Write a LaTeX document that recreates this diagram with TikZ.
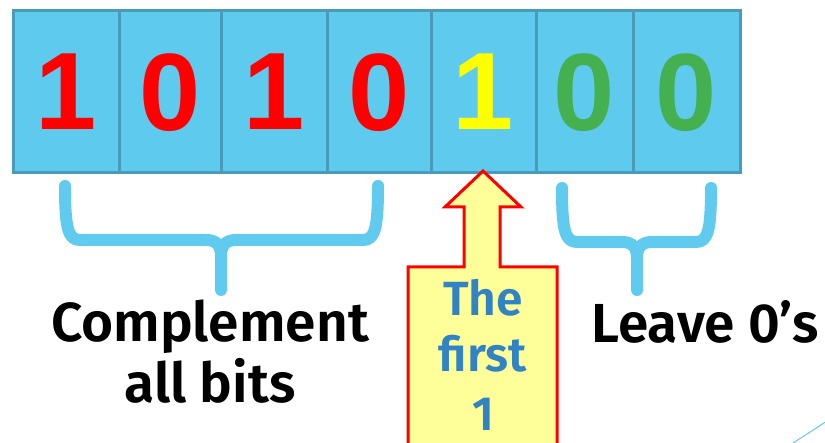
\documentclass[tikz,border=0pt]{standalone}
\usepackage{fontspec}
\setmainfont{Fira Sans}[BoldFont={Fira Sans SemiBold}]
\newfontfamily\digitfont{Liberation Sans}
\definecolor{cellfill}{HTML}{5DCAEE}
\definecolor{celledge}{HTML}{4A9BB9}
\definecolor{bracecol}{HTML}{60CBEF}
\definecolor{bitred}{HTML}{FF0000}
\definecolor{bityellow}{HTML}{FFFF00}
\definecolor{bitgreen}{HTML}{44B04F}
\definecolor{notefill}{HTML}{FFFF99}
\definecolor{notetext}{HTML}{3183C4}
\begin{document}
\begin{tikzpicture}[x=1pt,y=-1pt,
  cell/.style={draw=celledge, fill=cellfill, line width=3pt, minimum height=162pt, inner sep=0pt},
  bit/.style={font=\digitfont\bfseries\fontsize{110}{110}\selectfont, inner sep=0pt, text depth=0pt},
  brace/.style={draw=bracecol, line width=12pt, line cap=round, line join=round},
  label/.style={font=\bfseries\fontsize{55}{55}\selectfont, inner sep=0pt, anchor=base},
  note/.style={font=\bfseries\fontsize{48}{48}\selectfont, text=notetext, inner sep=0pt, anchor=base}]
\useasboundingbox (0,0) rectangle (825,443);

% the seven cells of the bit string
\foreach \name/\l/\r in {b1/13/119, b2/119/221, b3/221/327, b4/327/431, b5/431/536, b6/536/633, b7/633/740}{
  \node[cell, minimum width={\r-\l}] (\name) at ({(\l+\r)/2},92) {};
}
\node[bit, text=bitred]    at (b1) {1};
\node[bit, text=bitred]    at (b2) {0};
\node[bit, text=bitred]    at (b3) {1};
\node[bit, text=bitred]    at (b4) {0};
\node[bit, text=bityellow] at (b5) {1};
\node[bit, text=bitgreen]  at (b6) {0};
\node[bit, text=bitgreen]  at (b7) {0};

% brace under the complemented bits
\draw[brace] (65,186) .. controls (65,228) and (68,240) .. (80,240) -- (206,240)
  .. controls (216,240) and (221,245) .. (221,256) -- (221,290);
\draw[brace] (378,186) .. controls (378,228) and (375,240) .. (363,240) -- (236,240)
  .. controls (226,240) and (221,245) .. (221,256);

% brace under the trailing zeros
\draw[brace] (562,188) .. controls (562,230) and (565,242) .. (577,242) -- (622,242)
  .. controls (632,242) and (637,247) .. (637,258) -- (637,290);
\draw[brace] (711,188) .. controls (711,230) and (708,242) .. (696,242) -- (652,242)
  .. controls (642,242) and (637,247) .. (637,258);

% arrow pointing at the first 1
\coordinate (tip) at (483,171);
\draw[draw=red, fill=notefill, line width=3pt, line join=miter]
  (tip) -- (521,207) -- (500,207) -- (500,267) -- (557,267) -- (557,450)
  -- (408,450) -- (408,267) -- (464,267) -- (464,207) -- (445,207) -- cycle;
\node[note] (n1) at (483,316) {The};
\node[note] (n2) at (483,372) {first};
\node[note] (n3) at (483,431) {1};

% labels
\node[label] (c1) at (210,342) {Complement};
\node[label] (c2) at (210,403) {all bits};
\node[label] (lz) at (705,343) {Leave 0’s};

% corner accent line
\draw[bracecol, line width=1pt] (790,445) -- (827,421);
\end{tikzpicture}
\end{document}
